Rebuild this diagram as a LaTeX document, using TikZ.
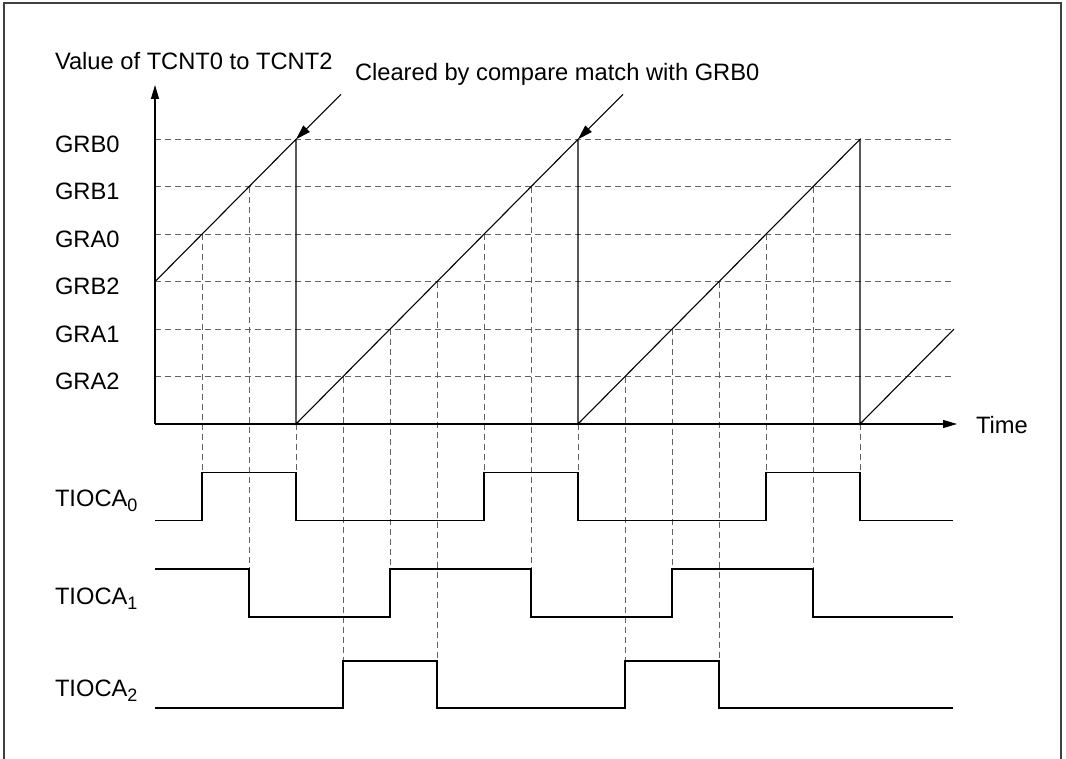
\documentclass[tikz,border=0pt]{standalone}
\usepackage{fontspec}
\setmainfont{Liberation Sans}
\usetikzlibrary{arrows.meta}
\newcommand{\subnum}[1]{\raisebox{-5.5pt}{\fontsize{18}{18}\selectfont #1}}
\begin{document}
\begin{tikzpicture}[x=1pt,y=-1pt,
  font=\fontsize{23.7}{28}\selectfont,
  sig/.style={line width=1.1pt,black},
  grid/.style={line width=0.9pt,black!62,dash pattern=on 6pt off 4pt},
  axis/.style={line width=1.1pt,-{Triangle[length=14pt,width=8pt]}},
  callout/.style={line width=1pt,-{Triangle[length=15pt,width=9pt]}},
  lbl/.style={anchor=base west,inner sep=0pt,outer sep=0pt}]
\useasboundingbox (0,0) rectangle (1066,759);
% frame
\draw[line width=1.3pt,black!75] (4,759) -- (4,3) -- (1061,3) -- (1061,759);

% levels
\def\Lz{424}
\def\La{376.55}\def\Lb{329.1}\def\Lc{281.65}\def\Ld{234.2}\def\Le{186.75}\def\Lf{139.3}

% horizontal dashed grid
\foreach \yy in {\La,\Lb,\Lc,\Ld,\Le,\Lf}
  \draw[grid] (155,\yy) -- (953,\yy);

% vertical dashed guides
\foreach \xx/\ya/\yb in {202/\Ld/472.5, 249/\Le/569, 296/\Lz/472.5,
  343/\La/661, 390/\Lb/569, 437/\Lc/661, 484/\Ld/472.5, 531/\Le/569,
  578/\Lz/472.5, 625/\La/661, 672/\Lb/569, 719/\Lc/661, 766/\Ld/472.5,
  813/\Le/569, 860/\Lz/472.5}
  \draw[grid] (\xx,\ya) -- (\xx,\yb);

% axes
\coordinate (O) at (155,\Lz);
\coordinate (ytip) at (155,85);
\coordinate (xtip) at (957,\Lz);
\draw[axis] (O) -- (ytip);
\draw[axis] (O) -- (xtip);

% sawtooth
\draw[sig] (155,\Lc) -- (296,\Lf) -- (296,\Lz) -- (578,\Lf) -- (578,\Lz)
  -- (860,\Lf) -- (860,\Lz) -- (954,\Lb);

% labels
\node[lbl] (ylab) at (55,69.3) {Value of TCNT0 to TCNT2};
\node[lbl] (clr) at (355,80.5) {Cleared by compare match with GRB0};
\node[lbl] (time) at (976,433.5) {Time};
\node[lbl] (grb0) at (55,\Lf+13) {GRB0};
\node[lbl] (grb1) at (55,\Le+13) {GRB1};
\node[lbl] (gra0) at (55,\Ld+13) {GRA0};
\node[lbl] (grb2) at (55,\Lc+13) {GRB2};
\node[lbl] (gra1) at (55,\Lb+13) {GRA1};
\node[lbl] (gra2) at (55,\La+13) {GRA2};
\node[lbl] (t0) at (55,506) {TIOCA\subnum{0}};
\node[lbl] (t1) at (55,604) {TIOCA\subnum{1}};
\node[lbl] (t2) at (55,696) {TIOCA\subnum{2}};

% callouts
\coordinate (c1s) at (341,94.3);
\coordinate (c1e) at (296,\Lf);
\coordinate (c2s) at (623,94.3);
\coordinate (c2e) at (578,\Lf);
\draw[callout] (c1s) -- (c1e);
\draw[callout] (c2s) -- (c2e);

% TIOCA0
\draw[sig] (155,520.5) -- (202,520.5) -- (202,472.5) -- (296,472.5) -- (296,520.5)
  -- (484,520.5) -- (484,472.5) -- (578,472.5) -- (578,520.5) -- (766,520.5)
  -- (766,472.5) -- (860,472.5) -- (860,520.5) -- (953,520.5);
% TIOCA1
\draw[sig] (155,569) -- (249,569) -- (249,617) -- (390,617) -- (390,569)
  -- (531,569) -- (531,617) -- (672,617) -- (672,569) -- (813,569)
  -- (813,617) -- (953,617);
% TIOCA2
\draw[sig] (155,708) -- (343,708) -- (343,661) -- (437,661) -- (437,708)
  -- (625,708) -- (625,661) -- (719,661) -- (719,708) -- (953,708);
\end{tikzpicture}
\end{document}
